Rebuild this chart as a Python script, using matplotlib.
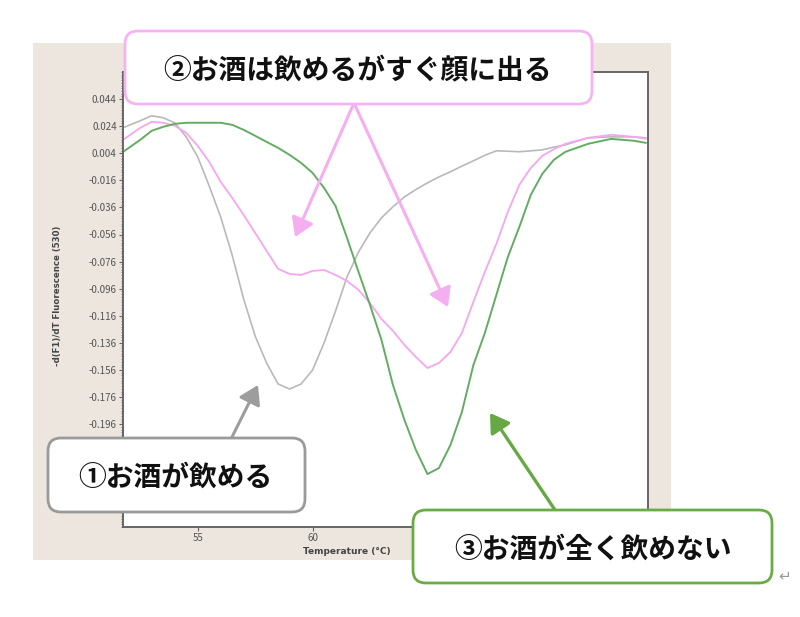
import matplotlib
matplotlib.use("Agg")
import matplotlib.pyplot as plt
from matplotlib.patches import FancyBboxPatch, FancyArrowPatch, Rectangle
from matplotlib.ticker import FixedLocator, FixedFormatter, MultipleLocator

plt.rcParams['font.family'] = ['Noto Sans CJK JP', 'DejaVu Sans']

# ---------------- data ----------------
temperature = [51.75, 52.5, 53, 53.5, 54, 54.5, 55, 55.5, 56, 56.5, 57, 57.5, 58, 58.5,
               59, 59.5, 60, 60.5, 61, 61.5, 62, 62.5, 63, 63.5, 64, 64.5, 65, 65.5,
               66, 66.5, 67, 67.5, 68, 68.5, 69, 69.5, 70, 70.5, 71, 72, 73, 74, 74.5]

gray_can_drink = [0.0228, 0.0280, 0.0317, 0.0302, 0.0265, 0.0161, 0.0014, -0.0201, -0.0430,
                  -0.0711, -0.1036, -0.1309, -0.1509, -0.1664, -0.1701, -0.1664, -0.1561,
                  -0.1361, -0.1125, -0.0873, -0.0689, -0.0548, -0.0437, -0.0355, -0.0282,
                  -0.0228, -0.0179, -0.0135, -0.0097, -0.0055, -0.0016, 0.0025, 0.0058,
                  0.0055, 0.0051, 0.0058, 0.0065, 0.0085, 0.0102, 0.0154, 0.0161, 0.0161, 0.0154]

pink_flush = [0.0139, 0.0228, 0.0272, 0.0265, 0.0243, 0.0191, 0.0095, -0.0023, -0.0171,
              -0.0289, -0.0415, -0.0548, -0.0681, -0.0814, -0.0851, -0.0859, -0.0829,
              -0.0822, -0.0859, -0.0903, -0.0969, -0.1066, -0.1184, -0.1272, -0.1376,
              -0.1465, -0.1546, -0.1509, -0.1428, -0.1287, -0.1058, -0.0836, -0.0629,
              -0.0393, -0.0193, -0.0068, 0.0021, 0.0070, 0.0110, 0.0154, 0.0176, 0.0161, 0.0147]

green_cannot = [0.0050, 0.0139, 0.0206, 0.0235, 0.0257, 0.0265, 0.0265, 0.0265, 0.0265,
                0.0250, 0.0213, 0.0169, 0.0124, 0.0080, 0.0028, -0.0031, -0.0105, -0.0216,
                -0.0349, -0.0585, -0.0836, -0.1080, -0.1339, -0.1672, -0.1930, -0.2152,
                -0.2329, -0.2285, -0.2115, -0.1871, -0.1524, -0.1287, -0.1006, -0.0726,
                -0.0504, -0.0267, -0.0112, -0.0009, 0.0050, 0.0110, 0.0146, 0.0132, 0.0117]

y_ticks = [0.044, 0.024, 0.004, -0.016, -0.036, -0.056, -0.076, -0.096, -0.116,
           -0.136, -0.156, -0.176, -0.196]
y_tick_labels = ["0.044", "0.024", "0.004", "-0.016", "-0.036", "-0.056", "-0.076",
                 "-0.096", "-0.116", "-0.136", "-0.156", "-0.176", "-0.196"]
x_ticks = [55, 60]
x_tick_labels = ["55", "60"]

label_1 = "①お酒が飲める"
label_2 = "②お酒は飲めるがすぐ顔に出る"
label_3 = "③お酒が全く飲めない"

# ---------------- figure ----------------
W, H = 800, 617
fig = plt.figure(figsize=(W / 100, H / 100), dpi=100)
fig.patch.set_facecolor('white')
T = fig.dpi_scale_trans


def pin(px, py):
    """pixel (from top-left) -> inches (from bottom-left)"""
    return (px / 100.0, (H - py) / 100.0)


# beige instrument-software panel
fig.add_artist(Rectangle(pin(33, 560), (671 - 33) / 100, (560 - 43) / 100,
                         transform=T, facecolor='#ece6df', edgecolor='none', zorder=-2))

ax = fig.add_axes([123 / W, 1 - 527 / H, (648 - 123) / W, (527 - 72) / H])
ax.set_facecolor('white')
ax.plot(temperature, gray_can_drink, color='#b9b9b9', lw=1.2)
ax.plot(temperature, pink_flush, color='#f6a6f0', lw=1.3)
ax.plot(temperature, green_cannot, color='#62ad62', lw=1.4)

ax.set_xlim(51.75, 74.6)
ax.set_ylim(-0.272, 0.064)
ax.yaxis.set_major_locator(FixedLocator(y_ticks))
ax.yaxis.set_major_formatter(FixedFormatter(y_tick_labels))
ax.xaxis.set_major_locator(FixedLocator(x_ticks))
ax.xaxis.set_major_formatter(FixedFormatter(x_tick_labels))
ax.yaxis.set_minor_locator(MultipleLocator(0.002))
ax.tick_params(axis='both', which='major', labelsize=7, labelcolor='#555555',
               color='#666666', length=3, width=0.8, pad=1.5)
ax.tick_params(axis='y', which='minor', length=1.5, width=0.6, color='#777777')
for s in ax.spines.values():
    s.set_color('#666666')
    s.set_linewidth(1.4)

fig.text(*pin(58, 296), "-d(F1)/dT Fluorescence (530)", rotation=90, fontsize=6.2,
         fontweight='bold', color='#444444', ha='center', va='center',
         family=['DejaVu Sans'], transform=T)
fig.text(*pin(303, 551), "Temperature (°C)", fontsize=6.5, fontweight='bold',
         color='#444444', ha='left', va='center', transform=T, family=['DejaVu Sans'])


# ---------------- arrows ----------------
def arrow(p0, p1, color, lw=2.2):
    a = FancyArrowPatch(pin(*p0), pin(*p1), transform=T,
                        arrowstyle='-|>,head_length=0.8,head_width=0.5',
                        mutation_scale=14, color=color, lw=lw,
                        shrinkA=0, shrinkB=0, zorder=4)
    fig.add_artist(a)


arrow((354, 103), (295, 237), '#f5aef0')
arrow((354, 103), (448, 307), '#f5aef0')
arrow((232, 437), (258, 385), '#9d9d9d')
arrow((555, 510), (490, 413), '#66a844', lw=2.4)


# ---------------- callout boxes ----------------
def callout(x0, y0, x1, y1, text, edge, cx, cy, fs):
    bx, by = pin(x0, y1)
    box = FancyBboxPatch((bx, by), (x1 - x0) / 100, (y1 - y0) / 100,
                         boxstyle='round,pad=0,rounding_size=0.13', transform=T,
                         facecolor='white', edgecolor=edge, lw=2.0, zorder=5)
    fig.add_artist(box)
    tx, ty = pin(cx, cy)
    fig.text(tx, ty, text, transform=T, ha='center', va='center', fontsize=fs,
             fontweight='bold', color='#111111', zorder=6,
             family=['Noto Sans CJK JP', 'DejaVu Sans'])


callout(125, 31, 592, 104, label_2, '#f5b3f3', 358, 71, 20)
callout(48, 438, 305, 512, label_1, '#9a9a9a', 175, 478, 20)
callout(413, 510, 772, 583, label_3, '#6aab45', 593, 550, 20)

fig.text(*pin(785, 576), "↵", transform=T, fontsize=11, color='#999999',
         ha='center', va='center', family=['DejaVu Sans'])

fig.savefig("out.png", dpi=100)
